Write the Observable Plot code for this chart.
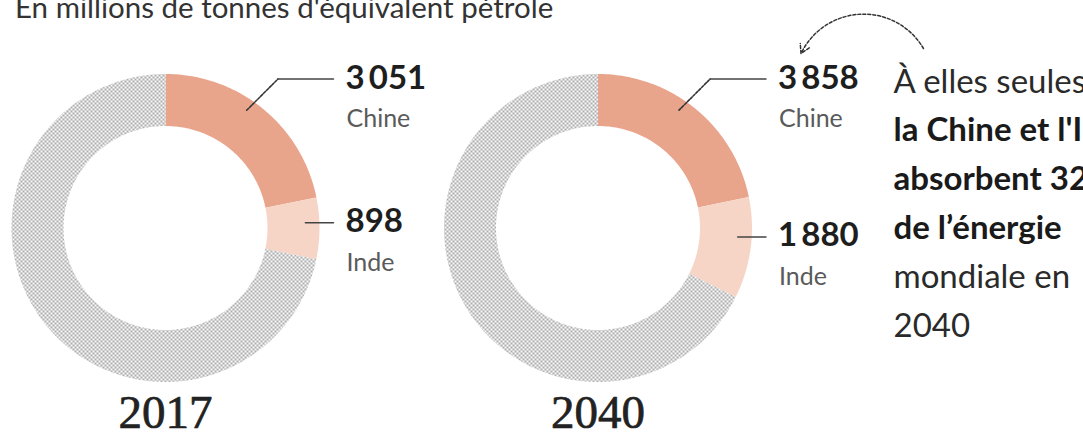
<!DOCTYPE html>
<html><head><meta charset="utf-8">
<script src="https://cdn.jsdelivr.net/npm/d3@7"></script>
<script src="https://cdn.jsdelivr.net/npm/@observablehq/plot@0.6"></script>
<style>
html,body{margin:0;padding:0;background:#fff;overflow:hidden;}
#wrap{position:relative;width:1083px;height:432px;overflow:hidden;}
#title{position:absolute;left:15px;top:-8px;font-family:Lato,sans-serif;font-size:29.5px;line-height:29.5px;color:#333;white-space:nowrap;}
#chart{position:absolute;left:0;top:0;}
</style></head><body>
<div id="wrap"><div id="chart"></div><div id="title"></div></div>
<script>
// ---- data ----
const title = "En millions de tonnes d'équivalent pétrole";
const years = ["2017", "2040"];
const countries = ["Chine", "Inde"];
const chinaValues = [3051, 3858];
const indiaValues = [898, 1880];
const worldTotals = [13972, 17715];
const restKey = "Reste du monde";
const noteLines = ["À elles seules,", "la Chine et l'Inde", "absorbent 32 %", "de l’énergie", "mondiale en", "2040"];
const noteBold = [false, true, true, true, false, false];

// ---- layout ----
const W = 1083, H = 432;
const centersX = [165, 597.5];
const centerY = 227.5;
const rOuter = 154, rInner = 102;
const fmt = d3.formatLocale({decimal: ",", thousands: "\u2009", grouping: [3], currency: ["", ""]}).format(",d");

document.getElementById("title").textContent = title;

const arcPts = [], dashed = [], solid = [], valueLabels = [], nameLabels = [], yearLabels = [];
const pol = (cx, r, a) => [cx + r * Math.sin(a), centerY - r * Math.cos(a)];

years.forEach((yr, i) => {
  const cx = centersX[i];
  const slices = [
    {key: countries[0], v: chinaValues[i]},
    {key: countries[1], v: indiaValues[i]},
    {key: restKey, v: worldTotals[i] - chinaValues[i] - indiaValues[i]}
  ];
  const arcs = d3.pie().sort(null).value(d => d.v)(slices);
  arcs.forEach((a, j) => {
    const id = yr + "-" + j;
    const n = Math.max(2, Math.ceil((a.endAngle - a.startAngle) / (Math.PI / 180)));
    for (let k = 0; k <= n; k++) {
      const t = a.startAngle + (a.endAngle - a.startAngle) * k / n;
      const [x, y] = pol(cx, rOuter, t);
      arcPts.push({id, key: a.data.key, x, y});
    }
    for (let k = n; k >= 0; k--) {
      const t = a.startAngle + (a.endAngle - a.startAngle) * k / n;
      const [x, y] = pol(cx, rInner, t);
      arcPts.push({id, key: a.data.key, x, y});
    }
  });
  const xEnd = cx + 168, xText = cx + 180;
  // Chine leader
  const c = arcs[0];
  const [px, py] = pol(cx, 143, c.startAngle + 0.44 * (c.endAngle - c.startAngle));
  const yLineC = centerY - rOuter + 5;
  const kx = px + (py - yLineC);
  dashed.push({id: yr + "c", x: px, y: py}, {id: yr + "c", x: kx, y: yLineC});
  solid.push({id: yr + "c", x: kx, y: yLineC}, {id: yr + "c", x: xEnd, y: yLineC});
  valueLabels.push({x: xText, y: yLineC + 10, text: fmt(chinaValues[i])});
  nameLabels.push({x: xText + 1, y: yLineC + 48, text: countries[0]});
  // Inde leader
  const d = arcs[1];
  const [qx, qy] = pol(cx, 140, d.startAngle + 0.4 * (d.endAngle - d.startAngle));
  solid.push({id: yr + "i", x: qx, y: qy}, {id: yr + "i", x: xEnd, y: qy});
  valueLabels.push({x: xText, y: qy + 9, text: fmt(indiaValues[i])});
  nameLabels.push({x: xText + 1, y: qy + 48, text: countries[1]});
  yearLabels.push({x: cx, y: 427, text: yr});
});

const noteX = 893, noteY0 = 92, noteStep = 48.8;
const notes = noteLines.map((t, i) => ({x: noteX, y: noteY0 + i * noteStep, text: t, bold: noteBold[i]}));
const arrowData = [{x1: noteX + 30, y1: noteY0 - 44, x2: valueLabels[2].x + 23, y2: noteY0 - 39}];

const chart = Plot.plot({
  width: W, height: H, margin: 0,
  x: {domain: [0, W], axis: null},
  y: {domain: [0, H], range: [0, H], axis: null},
  color: {domain: [countries[0], countries[1], restKey], range: ["#e9a58c", "#f6d5c7", "url(#dots)"]},
  style: {fontFamily: "Lato, sans-serif", background: "white", overflow: "hidden"},
  marks: [
    Plot.line(arcPts, {x: "x", y: "y", z: "id", fill: "key", stroke: "none", curve: "linear-closed"}),
    Plot.line(dashed, {x: "x", y: "y", z: "id", stroke: "#333", strokeWidth: 1.6, strokeDasharray: "2.5,1.5"}),
    Plot.line(solid, {x: "x", y: "y", z: "id", stroke: "#444", strokeWidth: 1.5}),
    Plot.text(valueLabels, {x: "x", y: "y", text: "text", textAnchor: "start", lineAnchor: "bottom", fontSize: 33, fontWeight: 700, fill: "#1e1e1e"}),
    Plot.text(nameLabels, {x: "x", y: "y", text: "text", textAnchor: "start", lineAnchor: "bottom", fontSize: 25, fill: "#5a5a5a"}),
    Plot.text(yearLabels, {x: "x", y: "y", text: "text", textAnchor: "middle", lineAnchor: "bottom", fontSize: 47, fontFamily: "Liberation Serif", fill: "#222", stroke: "#222", strokeWidth: 0.7}),
    Plot.text(notes.filter(d => !d.bold), {x: "x", y: "y", text: "text", textAnchor: "start", lineAnchor: "bottom", fontSize: 33, fill: "#2a2a2a"}),
    Plot.text(notes.filter(d => d.bold), {x: "x", y: "y", text: "text", textAnchor: "start", lineAnchor: "bottom", fontSize: 33, fontWeight: 700, fill: "#1a1a1a"}),
    Plot.arrow(arrowData, {x1: "x1", y1: "y1", x2: "x2", y2: "y2", bend: -62, stroke: "#333", strokeWidth: 1.5, strokeDasharray: "3,2", headLength: 10})
  ]
});

const defs = d3.select(chart).insert("defs", ":first-child");
const pat = defs.append("pattern").attr("id", "dots").attr("patternUnits", "userSpaceOnUse").attr("width", 4).attr("height", 4);
pat.append("rect").attr("width", 4).attr("height", 4).attr("fill", "#fafafa");
pat.append("rect").attr("x", 0).attr("y", 0).attr("width", 2).attr("height", 2).attr("fill", "#adadad");
pat.append("rect").attr("x", 2).attr("y", 2).attr("width", 2).attr("height", 2).attr("fill", "#adadad");

document.getElementById("chart").appendChild(chart);
</script>
</body></html>
